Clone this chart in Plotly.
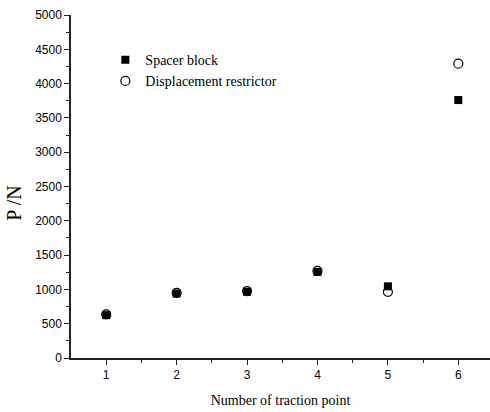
import plotly.graph_objects as go

points = [1, 2, 3, 4, 5, 6]
spacer_block = [625, 940, 965, 1255, 1045, 3760]
displacement_restrictor = [635, 950, 975, 1270, 965, 4290]
y_ticks = [0, 500, 1000, 1500, 2000, 2500, 3000, 3500, 4000, 4500, 5000]

fig = go.Figure()
fig.add_trace(go.Scatter(
    x=points, y=displacement_restrictor, mode="markers", name="Displacement restrictor",
    marker=dict(symbol="circle", size=9, color="white", line=dict(color="black", width=1.2)),
    legendrank=2,
))
fig.add_trace(go.Scatter(
    x=points, y=spacer_block, mode="markers", name="Spacer block",
    marker=dict(symbol="square", size=8, color="black", line=dict(width=0)),
    legendrank=1,
))

fig.update_layout(
    width=490, height=412,
    margin=dict(l=71, r=0, t=15, b=54),
    paper_bgcolor="white", plot_bgcolor="white",
    showlegend=True,
    legend=dict(x=0.082, y=0.915, xanchor="left", yanchor="top",
                font=dict(family="Liberation Serif", size=14, color="black"),
                bgcolor="rgba(0,0,0,0)", itemwidth=30, tracegroupgap=0),
    font=dict(family="Liberation Sans", size=12, color="black"),
    annotations=[dict(
        text="P /N", textangle=-90, xref="paper", yref="paper",
        x=-71/419 + 14/419, y=0.45, xanchor="center", yanchor="middle",
        showarrow=False, font=dict(family="Liberation Serif", size=20, color="black"),
    )],
)
fig.update_xaxes(
    range=[0.5, 6.45], tickvals=points, ticktext=[str(p) for p in points],
    showline=True, linecolor="#222", linewidth=1.5, showgrid=False, zeroline=False,
    ticks="outside", ticklen=5, tickcolor="#222", tickwidth=1.2,
    minor=dict(tickvals=[1.5, 2.5, 3.5, 4.5, 5.5], ticks="outside", ticklen=3, tickcolor="#222"),
    tickfont=dict(family="Liberation Sans", size=12),
    title=dict(text="Number of traction point", font=dict(family="Liberation Serif", size=14), standoff=14),
)
fig.update_yaxes(
    range=[0, 5000], tickvals=y_ticks, ticktext=[str(v) for v in y_ticks],
    showline=True, linecolor="#222", linewidth=1.5, showgrid=False, zeroline=False,
    ticks="outside", ticklen=5, tickcolor="#222", tickwidth=1.2,
    minor=dict(dtick=250, ticks="outside", ticklen=3, tickcolor="#222"),
    tickfont=dict(family="Liberation Sans", size=12),
)
fig.write_html("out.html")
